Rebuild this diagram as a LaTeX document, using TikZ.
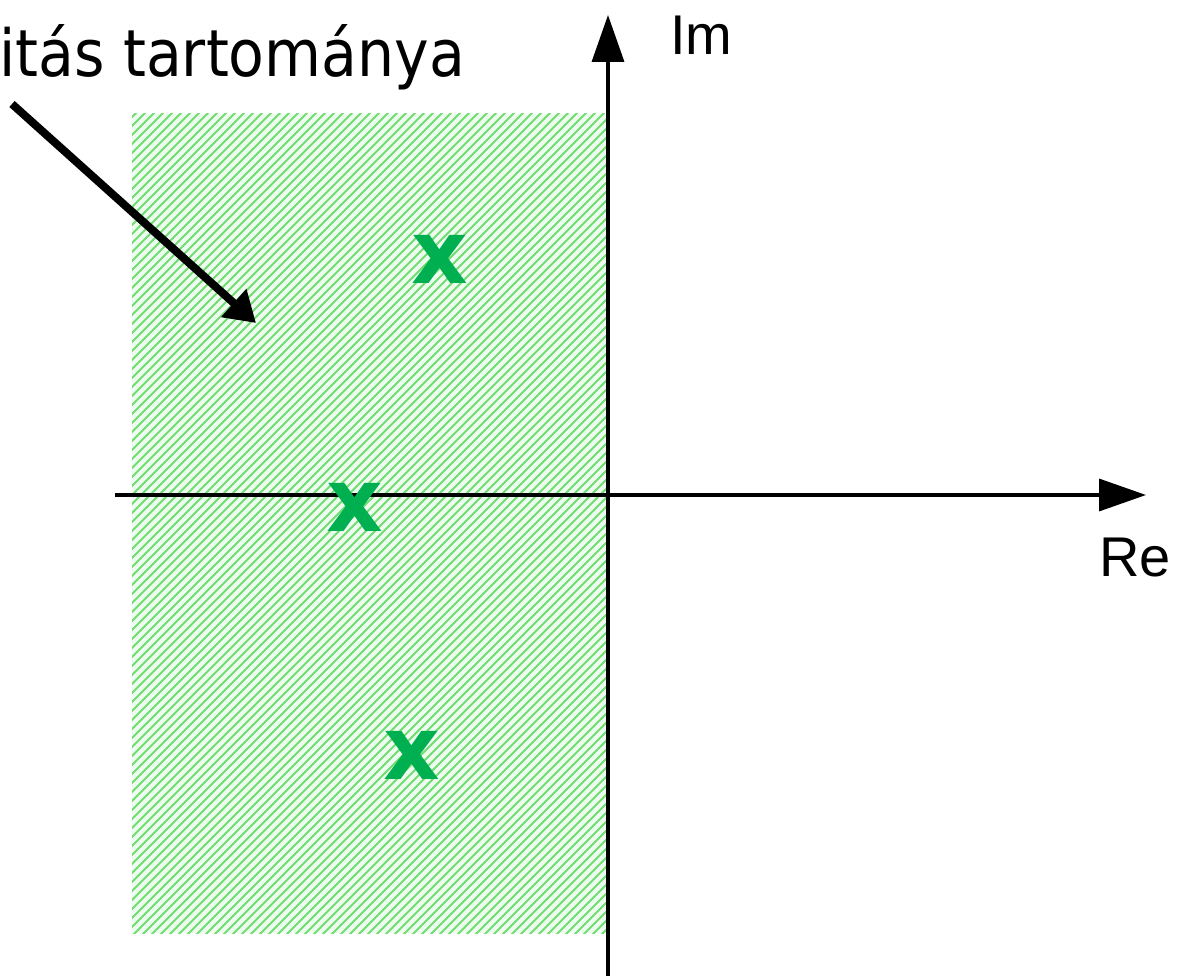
\documentclass[tikz,border=0pt]{standalone}
\usepackage{fontspec}
\setmainfont{DejaVu Sans}
\newfontfamily\labelfont{DejaVu Sans Condensed}
\newfontfamily\axisfont{Liberation Sans}
\newfontfamily\polefont{DejaVu Sans Bold}
\usetikzlibrary{arrows.meta}
\definecolor{hatchgreen}{RGB}{112,222,112}
\definecolor{hatchbg}{RGB}{238,252,240}
\definecolor{polegreen}{RGB}{0,176,80}
\tikzset{
  axisline/.style={line width=3.5pt, draw=black, -{Triangle[length=47pt,width=32pt]}},
  pointer/.style={line width=8pt, draw=black, -{Triangle[length=30pt,width=36pt]}},
  polemark/.style={text=polegreen, inner sep=0pt, font=\polefont\fontsize{88}{88}\selectfont},
  axislabel/.style={inner sep=0pt, anchor=base west, font=\axisfont\fontsize{56}{60}\selectfont},
  regionlabel/.style={inner sep=0pt, anchor=base west, font=\labelfont\fontsize{65}{72}\selectfont},
}
\begin{document}
\begin{tikzpicture}[x=1pt,y=-1pt]
\useasboundingbox (0,0) rectangle (1178,976);
% stability region (hatched)
\fill[hatchbg] (132,114) rectangle (607,933);
\begin{scope}
  \clip (132,114) rectangle (607,933);
  \foreach \c in {240,249,...,1550} {
    \draw[hatchgreen, line width=2.1pt] (\c-1000,1000) -- (\c,0);
  }
\end{scope}
% axes
\coordinate (xstart) at (115,495);
\coordinate (xend) at (1146,495);
\coordinate (ystart) at (608,976);
\coordinate (yend) at (608,15);
\draw[axisline] (xstart) -- (xend);
\draw[axisline] (ystart) -- (yend);
\node[axislabel] (im) at (670,55) {Im};
\node[axislabel] (re) at (1099,576) {Re};
% label and pointer
\node[regionlabel] (lbl) at (-1,77) {itás tartománya};
\coordinate (pstart) at (12,104);
\coordinate (ptip) at (256,323);
\draw[pointer] (pstart) -- (ptip);
% poles
\node[polemark] (p1) at (440,259) {x};
\node[polemark] (p2) at (355,507) {x};
\node[polemark] (p3) at (412,755) {x};
\end{tikzpicture}
\end{document}
